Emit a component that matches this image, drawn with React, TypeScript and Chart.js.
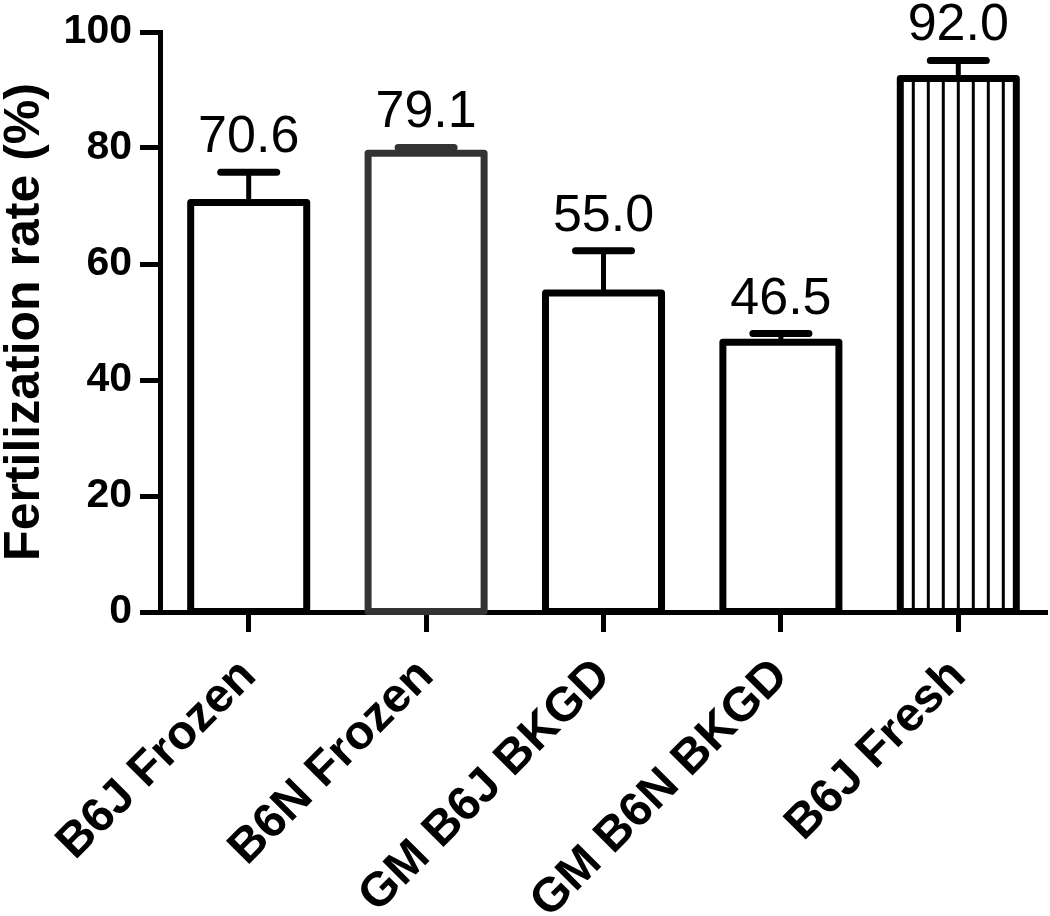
import React, { useEffect, useRef } from "react";
import { Chart, registerables } from "chart.js";

Chart.register(...registerables);

// ---- data ----
const categories = ["B6J Frozen", "B6N Frozen", "GM B6J BKGD", "GM B6N BKGD", "B6J Fresh"];
const rates = [70.6, 79.1, 55.0, 46.5, 92.0];
const sem = [5.2, 1.0, 7.3, 1.5, 3.1];
const yTicks = [0, 20, 40, 60, 80, 100];
const yTitle = "Fertilization rate (%)";

// ---- style ----
const FONT = '"Liberation Sans", Arial, Helvetica, sans-serif';
const outlineColors = ["#000000", "#333333", "#000000", "#000000", "#000000"];
const hatched = [false, false, false, false, true];

export default function App() {
  const ref = useRef<HTMLCanvasElement>(null);

  useEffect(() => {
    const canvas = ref.current;
    if (!canvas) return;

    const overlay = {
      id: "gpOverlay",
      afterDatasetsDraw(chart: any) {
        const ctx = chart.ctx as CanvasRenderingContext2D;
        const meta = chart.getDatasetMeta(0);
        const yScale = chart.scales.y;
        ctx.save();
        meta.data.forEach((bar: any, i: number) => {
          const { x, y, base, width } = bar.getProps(["x", "y", "base", "width"], true);
          const left = x - width / 2;
          const right = x + width / 2;
          const color = outlineColors[i];

          if (hatched[i]) {
            ctx.strokeStyle = "#000";
            ctx.lineWidth = 3;
            ctx.lineCap = "butt";
            for (let k = -12; k <= 12; k++) {
              const hx = x + k * 15;
              if (hx > left + 6 && hx < right - 6) {
                ctx.beginPath();
                ctx.moveTo(hx, y);
                ctx.lineTo(hx, base);
                ctx.stroke();
              }
            }
          }

          // error bar (upper)
          const top = yScale.getPixelForValue(rates[i] + sem[i]);
          ctx.strokeStyle = color;
          ctx.lineWidth = 5;
          ctx.lineCap = "butt";
          ctx.beginPath();
          ctx.moveTo(x, y);
          ctx.lineTo(x, top);
          ctx.stroke();
          ctx.lineWidth = 7;
          ctx.lineCap = "round";
          ctx.beginPath();
          ctx.moveTo(x - 28, top);
          ctx.lineTo(x + 28, top);
          ctx.stroke();

          // bar outline
          ctx.lineWidth = 7;
          ctx.lineJoin = "round";
          ctx.lineCap = "butt";
          ctx.strokeRect(left, y, width, base - y);

          // value label
          ctx.fillStyle = "#000";
          ctx.font = `52px ${FONT}`;
          ctx.textAlign = "center";
          ctx.textBaseline = "alphabetic";
          ctx.fillText(rates[i].toFixed(1), x, top - 20);
        });
        ctx.restore();
      },
    };

    const chart = new Chart(canvas, {
      type: "bar",
      data: {
        labels: categories,
        datasets: [
          {
            data: rates,
            backgroundColor: "#ffffff",
            borderWidth: 0,
            barPercentage: 0.654,
            categoryPercentage: 1,
          },
        ],
      },
      options: {
        responsive: false,
        animation: false,
        layout: { padding: { top: 32, right: 3, left: 0, bottom: 0 } },
        plugins: {
          legend: { display: false },
          tooltip: { enabled: false },
        },
        scales: {
          x: {
            offset: true,
            grid: {
              display: true,
              drawOnChartArea: false,
              drawTicks: true,
              tickLength: 20,
              tickWidth: 5,
              tickColor: "#000",
              offset: false,
            },
            border: { display: true, width: 5, color: "#000" },
            ticks: {
              color: "#000",
              font: { family: FONT, size: 48, weight: "bold" },
              minRotation: 45,
              maxRotation: 45,
              autoSkip: false,
              padding: 16,
            },
            afterFit(scale: any) {
              scale.height = 304;
              scale.paddingLeft = 0;
              scale.paddingRight = 0;
            },
          },
          y: {
            min: 0,
            max: 100,
            afterBuildTicks(scale: any) {
              scale.ticks = yTicks.map((v) => ({ value: v }));
            },
            grid: {
              display: true,
              drawOnChartArea: false,
              drawTicks: true,
              tickLength: 20,
              tickWidth: 5,
              tickColor: "#000",
            },
            border: { display: true, width: 5, color: "#000" },
            ticks: {
              color: "#000",
              font: { family: FONT, size: 41, weight: "bold" },
              padding: 8,
            },
            title: {
              display: true,
              text: yTitle,
              color: "#000",
              font: { family: FONT, size: 50, weight: "bold", lineHeight: 1 },
              padding: { top: 0, bottom: 0 },
            },
            afterFit(scale: any) {
              scale.width = 160;
              scale.paddingTop = 0;
              scale.paddingBottom = 0;
            },
          },
        },
      },
      plugins: [overlay],
    } as any);

    return () => chart.destroy();
  }, []);

  return (
    <div style={{ position: "fixed", left: 0, top: 0, width: 1050, height: 916, background: "#fff" }}>
      <canvas ref={ref} width={1050} height={916} style={{ display: "block", width: 1050, height: 916 }} />
    </div>
  );
}
